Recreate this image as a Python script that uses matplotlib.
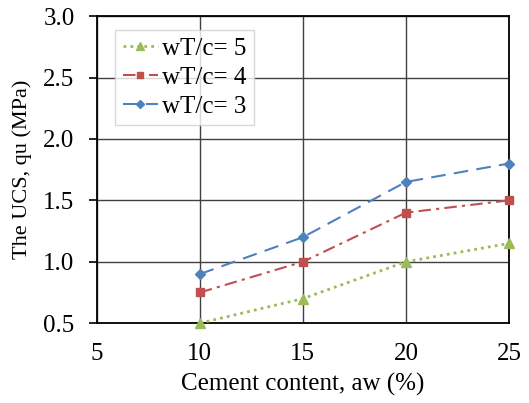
import matplotlib.pyplot as plt

plt.rcParams['font.family'] = ['Liberation Serif', 'DejaVu Serif']

cement = [10, 15, 20, 25]
ucs_w5 = [0.5, 0.7, 1.0, 1.15]
ucs_w4 = [0.75, 1.0, 1.4, 1.5]
ucs_w3 = [0.9, 1.2, 1.65, 1.8]

fig = plt.figure(figsize=(5.29, 4.03), dpi=100)
ax = fig.add_axes([0.183, 0.198, 0.779, 0.762])

ax.plot(cement, ucs_w5, color='#9BBB59', linestyle=(0, (1, 1.5)), linewidth=2,
        marker='^', markersize=7, label='wT/c= 5', clip_on=False, zorder=5)
ax.plot(cement, ucs_w4, color='#C0504D', linestyle=(0, (6, 2.5, 1.5, 2.5)), linewidth=1.5,
        marker='s', markersize=6, label='wT/c= 4', clip_on=False, zorder=5)
ax.plot(cement, ucs_w3, color='#4F81BD', linestyle=(0, (7, 4)), linewidth=1.5,
        marker='D', markersize=5, label='wT/c= 3', clip_on=False, zorder=5)

ax.set_xlim(5, 25)
ax.set_ylim(0.5, 3.0)
ax.set_xticks([5, 10, 15, 20, 25])
ax.set_yticks([0.5, 1.0, 1.5, 2.0, 2.5, 3.0])
ax.set_yticklabels(['0.5', '1.0', '1.5', '2.0', '2.5', '3.0'])
ax.grid(True, color='#404040', linewidth=1)
ax.set_axisbelow(True)
for s in ax.spines.values():
    s.set_color('black')
    s.set_linewidth(1.3)
ax.tick_params(direction='out', width=1.2, labelsize=18)
ax.tick_params(axis='x', length=0, pad=14)
ax.tick_params(axis='y', length=6, pad=10)

ax.set_xlabel('Cement content, aw (%)', fontsize=18, labelpad=6)
ax.set_ylabel('The UCS, qu (MPa)', fontsize=16, labelpad=8)

leg = ax.legend(loc='upper left', fontsize=18, handlelength=1.4, handletextpad=0.15,
                borderpad=0.3, labelspacing=0.25, fancybox=False, markerscale=0.8,
                bbox_to_anchor=(0.015, 0.995))
leg.get_frame().set_edgecolor('#d0d0d0')
leg.get_frame().set_linewidth(1)

fig.savefig('out.png', dpi=100)
